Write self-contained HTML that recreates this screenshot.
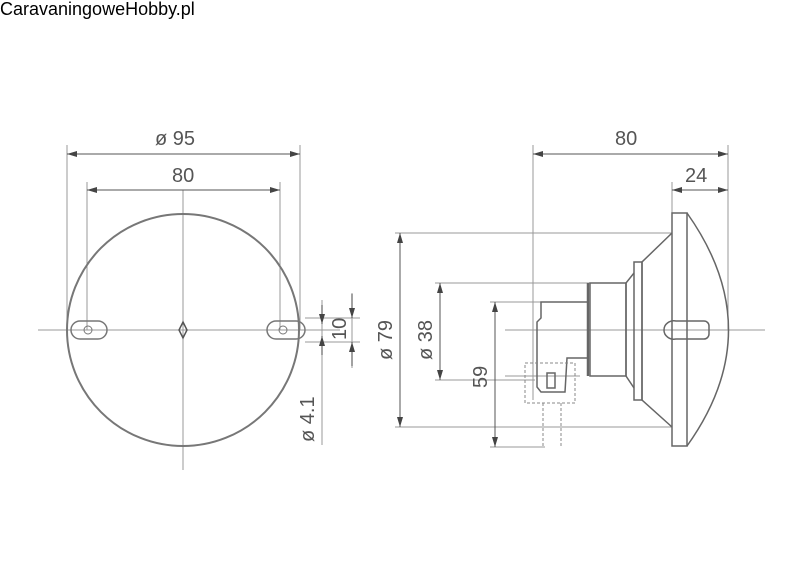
<!DOCTYPE html><html><head><style>body{margin:0;background:#fff}svg{display:block}text{font-family:"Liberation Sans",sans-serif;fill:#555}</style></head><body>
<svg width="800" height="569" viewBox="0 0 800 569" xmlns="http://www.w3.org/2000/svg">
<defs><marker id="a" markerWidth="10" markerHeight="6" refX="10" refY="3" orient="auto-start-reverse"><path d="M0,0L10,3L0,6z" fill="#444"/></marker></defs>
<text x="0" y="15" font-size="18" style="fill:#000">CaravaningoweHobby.pl</text>
<g stroke="#999" stroke-width="1" fill="none">
<line x1="38" y1="330" x2="340" y2="330"/><line x1="183" y1="190" x2="183" y2="470"/>
<line x1="67" y1="145" x2="67" y2="330"/><line x1="300" y1="145" x2="300" y2="330"/>
<line x1="87" y1="182" x2="87" y2="330"/><line x1="280" y1="182" x2="280" y2="330"/>
<line x1="67" y1="154" x2="300" y2="154" stroke="#555" marker-start="url(#a)" marker-end="url(#a)"/>
<line x1="87" y1="190" x2="280" y2="190" stroke="#555" marker-start="url(#a)" marker-end="url(#a)"/>
<line x1="305" y1="318" x2="360" y2="318"/><line x1="305" y1="342" x2="360" y2="342"/>
<line x1="322" y1="300" x2="322" y2="445"/><line x1="352" y1="293" x2="352" y2="368"/>
<line x1="352" y1="294" x2="352" y2="318" stroke="#444" marker-end="url(#a)"/><line x1="352" y1="366" x2="352" y2="342" stroke="#444" marker-end="url(#a)"/>
<line x1="322" y1="305" x2="322" y2="324" stroke="#444" marker-end="url(#a)"/><line x1="322" y1="355" x2="322" y2="336" stroke="#444" marker-end="url(#a)"/>
<circle cx="183" cy="330" r="116" stroke="#777" stroke-width="2"/>
<path d="M80,321 L98,321 A9,9 0 0 1 98,339 L80,339 A9,9 0 0 1 80,321z" stroke="#777" stroke-width="1.5"/>
<circle cx="88" cy="330" r="4" stroke="#777"/>
<path d="M276,321 L296,321 A9,9 0 0 1 296,339 L276,339 A9,9 0 0 1 276,321z" stroke="#777" stroke-width="1.5"/>
<circle cx="283" cy="330" r="4" stroke="#777"/>
<path d="M183,322 L187,330 L183,338 L179,330z" stroke="#555" stroke-width="1.5"/>
<line x1="533" y1="145" x2="533" y2="400"/><line x1="728" y1="145" x2="728" y2="330"/><line x1="672" y1="182" x2="672" y2="215"/>
<line x1="533" y1="154" x2="728" y2="154" stroke="#555" marker-start="url(#a)" marker-end="url(#a)"/>
<line x1="672" y1="190" x2="728" y2="190" stroke="#555" marker-start="url(#a)" marker-end="url(#a)"/>
<line x1="395" y1="233" x2="672" y2="233"/><line x1="395" y1="427" x2="672" y2="427"/>
<line x1="435" y1="283" x2="590" y2="283"/><line x1="435" y1="380" x2="535" y2="380"/>
<line x1="490" y1="302" x2="545" y2="302"/><line x1="490" y1="447" x2="545" y2="447"/>
<line x1="400" y1="233" x2="400" y2="427" stroke="#555" marker-start="url(#a)" marker-end="url(#a)"/>
<line x1="440" y1="283" x2="440" y2="380" stroke="#555" marker-start="url(#a)" marker-end="url(#a)"/>
<line x1="495" y1="302" x2="495" y2="447" stroke="#555" marker-start="url(#a)" marker-end="url(#a)"/>
<line x1="505" y1="330" x2="765" y2="330"/><line x1="505" y1="376" x2="580" y2="376"/>
<g stroke="#666" stroke-width="1.5">
<rect x="672" y="213" width="15" height="233"/>
<path d="M687,213 Q770,330 687,446"/>
<path d="M672,233 L642,262 L642,400 L672,427"/>
<rect x="634" y="262" width="8" height="138"/>
<path d="M634,273 L626,283 L626,376 L634,388"/>
<rect x="590" y="283" width="36" height="93"/>
<line x1="588" y1="283" x2="588" y2="376" stroke-width="2.5"/>
<path d="M588,302 L541,302 L541,318 L537,322 L537,387 L541,392 L565,392 L567,358 L588,358"/>
<rect x="547" y="373" width="8" height="15"/>
<path d="M664,330 A10,9 0 0 1 676,321 L704,321 A5,5 0 0 1 709,326 L709,334 A5,5 0 0 1 704,339 L676,339 A10,9 0 0 1 664,330z"/>
</g>
<g stroke="#888" stroke-dasharray="3,2"><rect x="525" y="363" width="50" height="40"/><line x1="543" y1="403" x2="543" y2="447"/><line x1="561" y1="403" x2="561" y2="447"/></g>
</g>
<g font-size="20">
<text x="155" y="145">ø 95</text><text x="172" y="182">80</text>
<text x="615" y="145">80</text><text x="685" y="182">24</text>
<text transform="translate(346,340) rotate(-90)">10</text>
<text transform="translate(314,442) rotate(-90)">ø 4.1</text>
<text transform="translate(392,360) rotate(-90)">ø 79</text>
<text transform="translate(432,360) rotate(-90)">ø 38</text>
<text transform="translate(487,388) rotate(-90)">59</text>
</g>
</svg></body></html>
